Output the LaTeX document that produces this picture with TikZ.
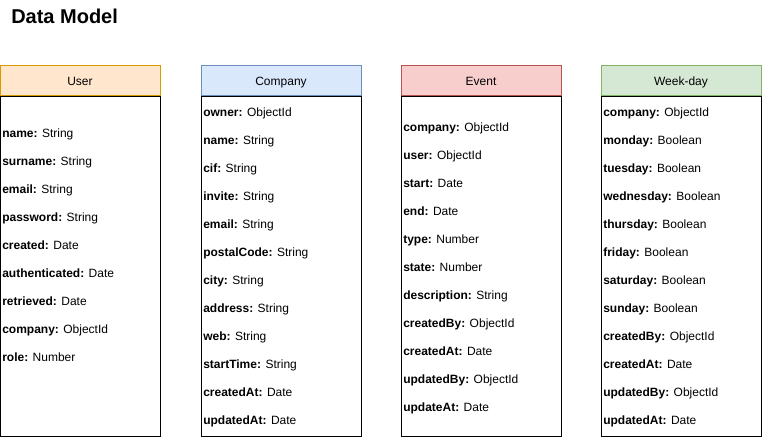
\documentclass[tikz,border=0pt]{standalone}
\usepackage{fontspec}
\setmainfont{Liberation Sans}
\usetikzlibrary{positioning}

\definecolor{userfill}{HTML}{FFE6CC}
\definecolor{userline}{HTML}{D79B00}
\definecolor{compfill}{HTML}{DAE8FC}
\definecolor{compline}{HTML}{6C8EBF}
\definecolor{eventfill}{HTML}{F8CECC}
\definecolor{eventline}{HTML}{B85450}
\definecolor{weekfill}{HTML}{D5E8D4}
\definecolor{weekline}{HTML}{82B366}

\tikzset{
  header/.style={draw, line width=0.75pt, minimum width=120pt, minimum height=22.5pt,
    inner sep=0pt, text height=7.5pt, text depth=0pt, font=\fontsize{9}{11}\selectfont},
  tablebody/.style={draw=black, line width=0.75pt, minimum width=120pt, minimum height=255pt,
    inner sep=0pt},
  field/.style={anchor=base west, inner sep=0pt, font=\fontsize{9}{11}\selectfont}
}

\begin{document}
\begin{tikzpicture}[x=0.75pt,y=-0.75pt]
    \useasboundingbox (0,0) rectangle (762,439);
    \node[anchor=base west, inner sep=0pt, font=\fontsize{15}{18}\selectfont\bfseries] (title) at (11,23.5) {Data Model};

    % tables
    \node[header, fill=userfill, draw=userline] (user) at (80,80) {User};
    \node[tablebody, below=0pt of user] (user-body) {};
    \node[header, fill=compfill, draw=compline] (company) at (281,80) {Company};
    \node[tablebody, below=0pt of company] (company-body) {};
    \node[header, fill=eventfill, draw=eventline] (event) at (481,80) {Event};
    \node[tablebody, below=0pt of event] (event-body) {};
    \node[header, fill=weekfill, draw=weekline] (weekday) at (681,80) {Week-day};
    \node[tablebody, below=0pt of weekday] (weekday-body) {};

    % fields
    \foreach \k/\v [count=\i from 0] in {name/String, surname/String, email/String,
        password/String, created/Date, authenticated/Date, retrieved/Date,
        company/ObjectId, role/Number}
        \node[field] (user-\i) at (2,{137+28*\i}) {\textbf{\k:} \ignorespaces\v};
    \foreach \k/\v [count=\i from 0] in {owner/ObjectId, name/String, cif/String,
        invite/String, email/String, postalCode/String, city/String, address/String,
        web/String, startTime/String, createdAt/Date, updatedAt/Date}
        \node[field] (company-\i) at (203,{116+28*\i}) {\textbf{\k:} \ignorespaces\v};
    \foreach \k/\v [count=\i from 0] in {company/ObjectId, user/ObjectId, start/Date,
        end/Date, type/Number, state/Number, description/String, createdBy/ObjectId,
        createdAt/Date, updatedBy/ObjectId, updateAt/Date}
        \node[field] (event-\i) at (403,{131+28*\i}) {\textbf{\k:} \ignorespaces\v};
    \foreach \k/\v [count=\i from 0] in {company/ObjectId, monday/Boolean, tuesday/Boolean,
        wednesday/Boolean, thursday/Boolean, friday/Boolean, saturday/Boolean,
        sunday/Boolean, createdBy/ObjectId, createdAt/Date, updatedBy/ObjectId,
        updatedAt/Date}
        \node[field] (weekday-\i) at (603,{116+28*\i}) {\textbf{\k:} \ignorespaces\v};
\end{tikzpicture}
\end{document}
